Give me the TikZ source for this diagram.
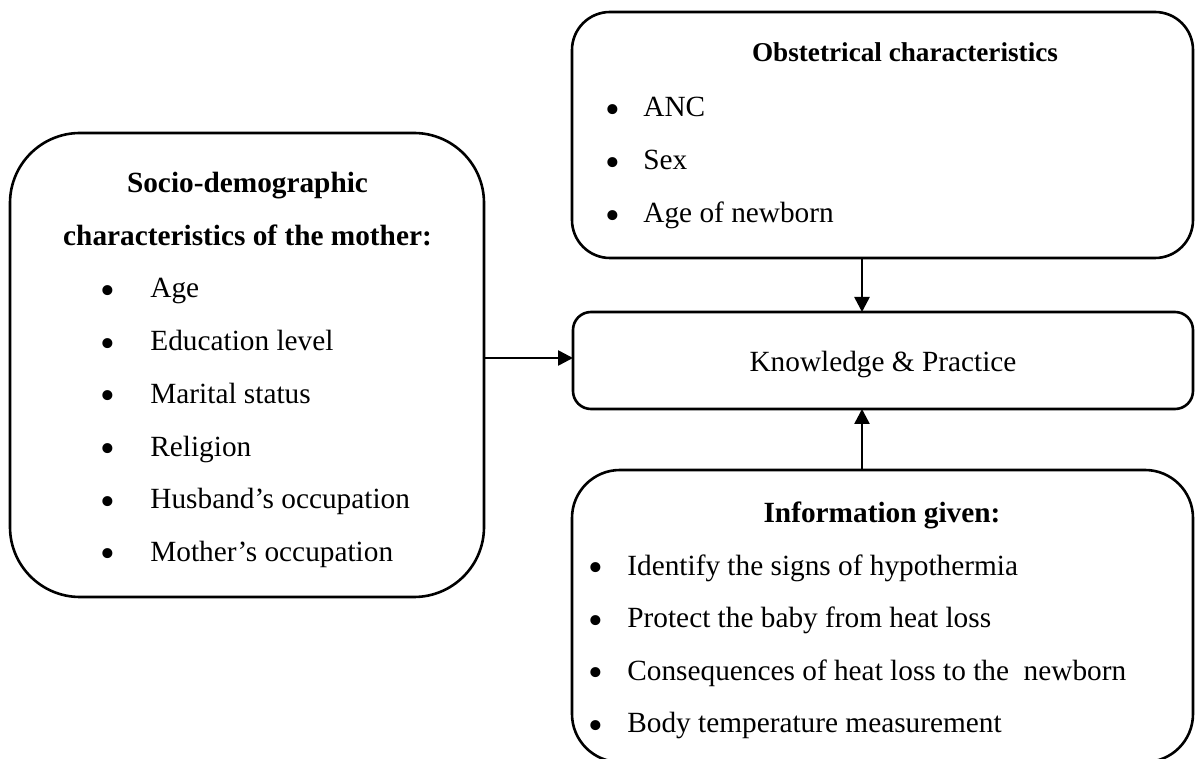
\documentclass[tikz,border=0pt]{standalone}
\usepackage{fontspec}
\setmainfont{Liberation Serif}
\usetikzlibrary{arrows.meta}
\begin{document}
\begin{tikzpicture}[x=0.5pt,y=-0.5pt,
  boxstyle/.style={draw, line width=1.3pt, inner sep=0pt, outer sep=0pt},
  txt/.style={anchor=base west, inner sep=0pt, font=\fontsize{14.65}{17}\selectfont},
  bul/.style={anchor=center, inner sep=0pt, font=\fontsize{21}{21}\selectfont},
  ctr/.style={anchor=base, inner sep=0pt, font=\fontsize{14.65}{17}\selectfont},
  hdr/.style={anchor=base, inner sep=0pt, font=\fontsize{14.65}{17}\selectfont\bfseries},
  arr/.style={line width=1.3pt, -{Triangle[length=7.5pt,width=7.5pt]}}]
\useasboundingbox (0,0) rectangle (1196,759);

% boxes
\node[boxstyle, minimum width=310.5pt, minimum height=123pt, rounded corners=19pt] (obst) at (882.5,135) {};
\node[boxstyle, minimum width=237pt, minimum height=232pt, rounded corners=35pt] (socio) at (247,365) {};
\node[boxstyle, minimum width=310pt, minimum height=48.5pt, rounded corners=9pt] (know) at (883,360.5) {};
\node[boxstyle, minimum width=310.5pt, minimum height=146pt, rounded corners=24pt] (info) at (882.5,616) {};

% obstetrical
\node[hdr, font=\fontsize{13.6}{16}\selectfont\bfseries] (oh) at (905,62) {Obstetrical characteristics};
\foreach \y/\t [count=\i] in {117/ANC, 170/Sex, 223/Age of newborn}{
  \node[bul] (ob\i) at (613,\y-3) {•};
  \node[txt] (ot\i) at (643,\y) {\t};
}

% socio
\node[hdr] (sh1) at (247.5,192.6) {Socio-demographic};
\node[hdr] (sh2) at (247.5,245.3) {characteristics of the mother:};
\foreach \y/\t [count=\i] in {298/Age, 350.7/Education level, 403.4/Marital status, 456.1/Religion, 508.8/Husband’s occupation, 561.5/Mother’s occupation}{
  \node[bul] (sb\i) at (108,\y-3) {•};
  \node[txt] (st\i) at (150,\y) {\t};
}

% knowledge
\node[ctr] (kt) at (883,372) {Knowledge \& Practice};

% information
\node[hdr] (ih) at (882,523) {Information given:};
\foreach \y/\t [count=\i] in {575.5/Identify the signs of hypothermia, 628/Protect the baby from heat loss, 680.5/Consequences of heat loss to the\ \ newborn, 733/Body temperature measurement}{
  \node[bul] (ib\i) at (596,\y-3) {•};
  \node[txt] (it\i) at (627,\y) {\t};
}

% connectors
\coordinate (ax) at (862,0);
\coordinate (ay) at (0,358);
\draw[arr] (obst.south -| ax) -- (know.north -| ax);
\draw[arr] (info.north -| ax) -- (know.south -| ax);
\draw[arr] (socio.east |- ay) -- (know.west |- ay);
\end{tikzpicture}
\end{document}
